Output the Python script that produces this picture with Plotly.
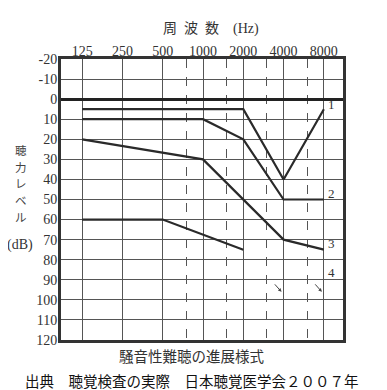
import math
import plotly.graph_objects as go

# ---- data ----
freq_ticks = [125, 250, 500, 1000, 2000, 4000, 8000]
freq_tick_labels = ["125", "250", "500", "1000", "2000", "4000", "8000"]
half_octaves = [750, 1500, 3000, 6000]
db_ticks = list(range(-20, 121, 10))
db_tick_labels = ["-20", "-10"] + [str(v) for v in range(0, 121, 10)]

stage_names = ["1", "2", "3", "4"]
stage1_f = [125, 2000, 4000, 8000]
stage1_db = [5, 5, 40, 5]
stage2_f = [125, 1000, 2000, 4000, 8000]
stage2_db = [10, 10, 20, 50, 50]
stage3_f = [125, 1000, 4000, 8000]
stage3_db = [20, 30, 70, 75]
stage4_f = [125, 500, 2000]
stage4_db = [60, 60, 75]
label_db = [2.5, 47, 72, 86.5]

arrow_f = [3860, 7730]
arrow_db = [96, 96]

ytitle_chars = ["聴", "力", "レ", "ベ", "ル"]

series = [(stage1_f, stage1_db), (stage2_f, stage2_db), (stage3_f, stage3_db), (stage4_f, stage4_db)]

LINE = "#2a2a2a"
SERIF = "Liberation Serif, DejaVu Serif, serif"
JP = "Noto Sans CJK JP, sans-serif"

fig = go.Figure()
for f, d in series:
    fig.add_trace(go.Scatter(x=f, y=d, mode="lines",
                             line=dict(color=LINE, width=2.2),
                             showlegend=False, hoverinfo="skip"))

ann = []
for name, yv in zip(stage_names, label_db):
    ann.append(dict(x=math.log10(8000), y=yv, xref="x", yref="y", text=name,
                    showarrow=False, xanchor="left", yanchor="middle", xshift=2,
                    font=dict(family=SERIF, size=13, color="#333")))
for fa, da in zip(arrow_f, arrow_db):
    ann.append(dict(x=math.log10(fa), y=da, xref="x", yref="y", text="",
                    showarrow=True, arrowhead=2, arrowsize=0.7, arrowwidth=1,
                    arrowcolor="#444", ax=-8, ay=-9))

# page body has an 8px margin: compensate so the plot lands where the reference has it
OFF = 8
W, H = 387, 390
ML, MT = 61 - OFF, 59 - OFF
MR, MB = W - (343 - OFF), H - (340 - OFF)
pw, ph = W - ML - MR, H - MT - MB

def pix(px, py, text, font, pad=1):
    px -= OFF
    py -= OFF
    return dict(x=(px - ML) / pw, y=1 - (py - MT) / ph, xref="paper", yref="paper",
                xanchor="center", yanchor="middle", borderpad=pad,
                text=text, showarrow=False, font=font)

ann.append(pix(211, 27, "周\u2002波\u2002数\u2003<span style='font-family:Liberation Serif'>(Hz)</span>",
               dict(family=JP, size=14, color="#333")))
for ch, py in zip(ytitle_chars, [150, 166.5, 183, 200, 217]):
    ann.append(pix(21, py, ch, dict(family=JP, size=11.5, color="#444"), pad=0))
ann += [
    pix(20, 245, "(dB)", dict(family=SERIF, size=14, color="#333")),
    pix(191, 355, "騒音性難聴の進展様式", dict(family=JP, size=14.5, color="#333")),
    pix(192, 380, "出典　聴覚検査の実際　日本聴覚医学会２００７年", dict(family=JP, size=14.5, color="#111")),
]

fig.update_layout(
    width=W, height=H,
    margin=dict(l=ML, r=MR, t=MT, b=MB, autoexpand=False),
    paper_bgcolor="white", plot_bgcolor="white",
    annotations=ann,
    xaxis=dict(type="log", side="top", automargin=False,
               range=[math.log10(125) - 0.525 * math.log10(2), math.log10(8000) + 0.475 * math.log10(2)],
               tickmode="array", tickvals=freq_ticks, ticktext=freq_tick_labels,
               showgrid=True, gridcolor="#555", gridwidth=1,
               minor=dict(tickmode="array", tickvals=half_octaves, showgrid=True,
                          gridcolor="#555", griddash="dash", gridwidth=1.2, ticks=""),
               showline=True, mirror=True, linecolor="#333", linewidth=3,
               ticks="", zeroline=False, ticklabelstandoff=-6,
               tickfont=dict(family=SERIF, size=14, color="#333")),
    yaxis=dict(range=[120, -20], tickmode="array", tickvals=db_ticks, ticktext=db_tick_labels,
               automargin=False, ticklabelstandoff=-2,
               showgrid=True, gridcolor="#555", gridwidth=1,
               zeroline=True, zerolinecolor="#222", zerolinewidth=2.5,
               showline=True, mirror=True, linecolor="#333", linewidth=3,
               ticks="", tickfont=dict(family=SERIF, size=14, color="#333")),
)
fig.write_html("out.html")
